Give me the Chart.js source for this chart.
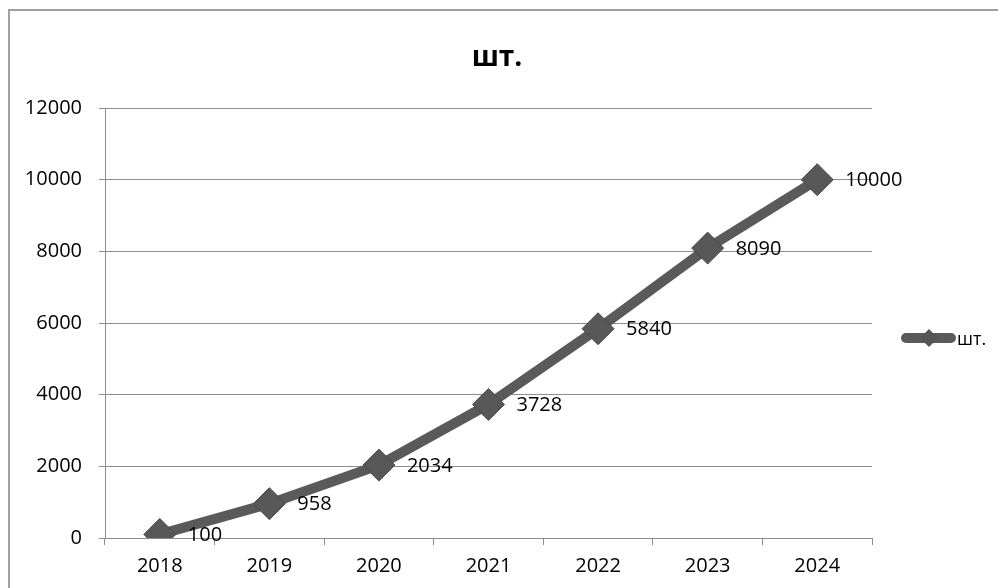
<!DOCTYPE html>
<html>
<head>
<meta charset="utf-8">
<script src="https://cdn.jsdelivr.net/npm/chart.js@4/dist/chart.umd.min.js"></script>
<style>
  html, body { margin: 0; padding: 0; background: #fff; }
  #wrap { width: 998px; height: 588px; position: relative; overflow: hidden; }
</style>
</head>
<body>
<div id="wrap"><canvas id="c" width="998" height="588"></canvas></div>
<script>
const title = 'шт.';
const seriesName = 'шт.';
const categories = ['2018', '2019', '2020', '2021', '2022', '2023', '2024'];
const values = [100, 958, 2034, 3728, 5840, 8090, 10000];
const yMin = 0, yMax = 12000, yStep = 2000;

const FONT = "'Open Sans', 'Liberation Sans', sans-serif";
const LINE = '#5a5a5a';
const GRID = '#8c8c8c';

const framePlugin = {
  id: 'frame',
  beforeDraw(chart) {
    const ctx = chart.ctx;
    ctx.save();
    ctx.fillStyle = '#fff';
    ctx.fillRect(0, 0, chart.width, chart.height);
    ctx.strokeStyle = '#a0a0a0';
    ctx.lineWidth = 2;
    ctx.strokeRect(9, 10, 1200, 1200);
    ctx.restore();
  },
  afterDraw(chart) {
    const ctx = chart.ctx;
    ctx.save();
    ctx.fillStyle = '#000';
    ctx.font = 'bold 28px ' + FONT;
    ctx.textAlign = 'center';
    ctx.textBaseline = 'alphabetic';
    ctx.fillText(title, 497, 66);
    const ly = 338;
    ctx.strokeStyle = LINE;
    ctx.lineWidth = 10;
    ctx.lineCap = 'round';
    ctx.beginPath();
    ctx.moveTo(906, ly);
    ctx.lineTo(951, ly);
    ctx.stroke();
    ctx.fillStyle = '#555';
    ctx.beginPath();
    const r = 9, cx = 929;
    ctx.moveTo(cx - r, ly);
    ctx.lineTo(cx, ly - r);
    ctx.lineTo(cx + r, ly);
    ctx.lineTo(cx, ly + r);
    ctx.closePath();
    ctx.fill();
    ctx.fillStyle = '#000';
    ctx.font = '18px ' + FONT;
    ctx.textAlign = 'left';
    ctx.textBaseline = 'middle';
    ctx.fillText(seriesName, 957, 340);
    ctx.restore();
  }
};

const labelPlugin = {
  id: 'pointLabels',
  afterDatasetsDraw(chart) {
    const ctx = chart.ctx;
    const meta = chart.getDatasetMeta(0);
    ctx.save();
    ctx.fillStyle = '#000';
    ctx.font = '20px ' + FONT;
    ctx.textAlign = 'left';
    ctx.textBaseline = 'middle';
    meta.data.forEach((pt, i) => {
      ctx.fillText(String(values[i]), pt.x + 28, pt.y + 1);
    });
    ctx.restore();
  }
};

new Chart(document.getElementById('c'), {
  type: 'line',
  data: {
    labels: categories,
    datasets: [{
      label: seriesName,
      data: values,
      borderColor: LINE,
      borderWidth: 10,
      tension: 0,
      pointStyle: 'rectRot',
      pointRadius: 16,
      pointHoverRadius: 16,
      pointBackgroundColor: '#585858',
      pointBorderColor: '#4a4a4a',
      pointBorderWidth: 1,
      fill: false
    }]
  },
  options: {
    responsive: false,
    animation: false,
    devicePixelRatio: 1,
    layout: { padding: { top: 108, right: 126, left: 0, bottom: 0 } },
    plugins: {
      legend: { display: false },
      title: { display: false },
      tooltip: { enabled: false }
    },
    scales: {
      x: {
        type: 'category',
        offset: true,
        grid: { offset: true, drawOnChartArea: false, drawTicks: true, tickLength: 7, color: GRID, lineWidth: 1 },
        border: { display: true, color: GRID, width: 1 },
        ticks: { color: '#000', font: { family: FONT, size: 20 }, padding: 9, maxRotation: 0 },
        afterFit(s) { s.height = 50; }
      },
      y: {
        min: yMin,
        max: yMax,
        grid: { color: GRID, lineWidth: 1, drawTicks: true, tickLength: 6 },
        border: { display: true, color: GRID, width: 1 },
        ticks: { stepSize: yStep, color: '#000', font: { family: FONT, size: 20 }, padding: 17,
                 callback: (v) => String(v) },
        afterFit(s) { s.width = 105; }
      }
    }
  },
  plugins: [framePlugin, labelPlugin]
});
</script>
</body>
</html>
